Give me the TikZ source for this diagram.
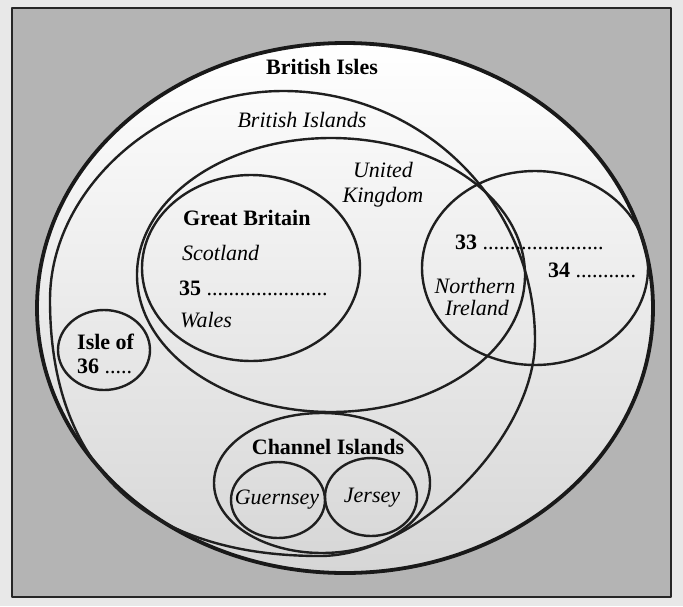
\documentclass[tikz,border=0pt]{standalone}
\usepackage{fontspec}
\setmainfont{Liberation Serif}
\definecolor{outbg}{RGB}{232,232,232}
\definecolor{framegray}{RGB}{180,180,180}
\definecolor{lowgray}{RGB}{214,214,214}
\begin{document}
\begin{tikzpicture}[x=1pt,y=-1pt,
  line join=round,
  thin line/.style={line width=2.4pt,black!88},
  lbl/.style={inner sep=0pt,font=\fontsize{22}{24}\selectfont},
  lblw/.style={lbl,anchor=west},
  bf/.style={font=\fontsize{22}{24}\selectfont\bfseries},
  it/.style={font=\fontsize{22}{24}\selectfont\itshape}]
\useasboundingbox (0,0) rectangle (683,606);
% page and frame
\fill[outbg] (0,0) rectangle (683,606);
\fill[framegray] (12,8) rectangle (671,597);
% British Isles interior
\shade[top color=white,middle color=white,bottom color=lowgray]
  (345,308) ellipse [x radius=308pt,y radius=265pt];
\draw[line width=2pt,black!85] (12,8) rectangle (671,597);
% British Isles
\draw[line width=3.8pt,black!90] (345,308) ellipse [x radius=308pt,y radius=265pt];
% British Islands
\draw[thin line] (283,91) .. controls (422,91) and (535,203) .. (535,340)
  .. controls (535,437) and (417,556) .. (320,556)
  .. controls (144,556) and (50,466) .. (50,300)
  .. controls (50,189) and (160,91) .. (283,91) -- cycle;
% United Kingdom
\draw[thin line] (331,275) ellipse [x radius=194pt,y radius=137pt];
% Great Britain
\draw[thin line] (251,268) ellipse [x radius=109pt,y radius=93pt];
% Ireland
\draw[thin line] (535,268) ellipse [x radius=113pt,y radius=97pt];
% Isle of Man
\draw[thin line] (104,350) ellipse [x radius=46pt,y radius=40pt];
% Channel Islands
\draw[thin line] (322,483) ellipse [x radius=108pt,y radius=70pt];
\draw[thin line] (278,500) ellipse [x radius=47pt,y radius=38pt];
\draw[thin line] (371,497) ellipse [x radius=46pt,y radius=39pt];
% labels
\node[lbl,bf] (isles) at (322,67) {British Isles};
\node[lbl,it] (islands) at (302,120) {British Islands};
\node[lbl,it] (united) at (383,170) {United};
\node[lbl,it] (kingdom) at (383,197) {Kingdom};
\node[lblw,bf] (gb) at (183,218) {Great Britain};
\node[lblw,it] (scot) at (182,253) {Scotland};
\node[lblw] (q35) at (179,288) {\textbf{35} ......................};
\node[lblw,it] (wales) at (180,320) {Wales};
\node[lblw,bf] (isleof) at (77,342) {Isle of};
\node[lblw] (q36) at (77,366) {\textbf{36} .....};
\node[lblw] (q33) at (455,242) {\textbf{33} ......................};
\node[lblw] (q34) at (548,270) {\textbf{34} ...........};
\node[lbl,it] (north) at (475,286) {Northern};
\node[lbl,it] (ireland) at (477,308) {Ireland};
\node[lbl,bf] (channel) at (328,447) {Channel Islands};
\node[lbl,it] (guern) at (277,500) {Guernsey};
\node[lbl,it] (jersey) at (372,498) {Jersey};
\end{tikzpicture}
\end{document}
